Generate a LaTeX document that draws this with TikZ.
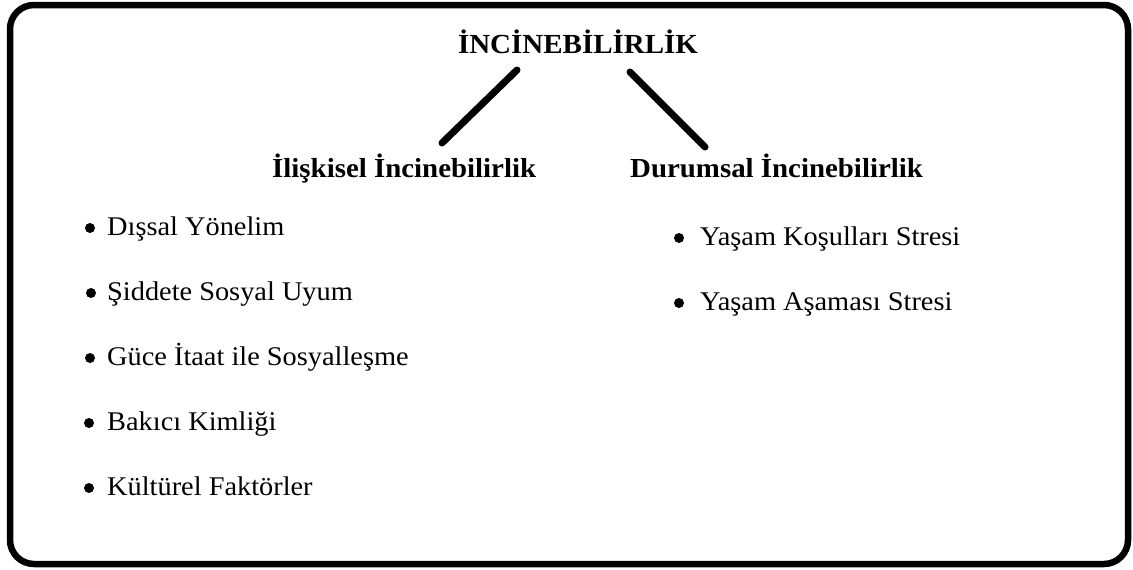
\documentclass[tikz,border=0pt]{standalone}
\usepackage{fontspec}
\setmainfont{Liberation Serif}[FakeStretch=1.05]
\begin{document}
\begin{tikzpicture}[x=1pt,y=-1pt,
  frame/.style={line width=6.5pt, rounded corners=24pt},
  titletext/.style={font=\fontsize{27.6}{32}\selectfont\bfseries, inner sep=0pt, anchor=base},
  headtext/.style={font=\fontsize{27.5}{32}\selectfont\bfseries, inner sep=0pt, anchor=base west},
  itemtext/.style={font=\fontsize{27}{31}\selectfont, inner sep=0pt, anchor=base west},
  dot/.style={circle, fill=black, inner sep=0pt, minimum size=10pt},
  conn/.style={line width=7pt, line cap=round}]
\useasboundingbox (0,0) rectangle (1133,570);
\draw[frame] (10,5) rectangle (1128,564);

\node[titletext] (title) at (578,53) {İNCİNEBİLİRLİK};
\node[headtext] (h1) at (272,177) {İlişkisel İncinebilirlik};
\node[headtext] (h2) at (630,177) {Durumsal İncinebilirlik};

\coordinate (c1a) at (517,70);
\coordinate (c1b) at (442,143);
\coordinate (c2a) at (630,72);
\coordinate (c2b) at (705,147);
\draw[conn] (c1a) -- (c1b);
\draw[conn] (c2a) -- (c2b);

\node[dot] (d1) at (90,228) {};
\node[itemtext] (i1) at (107,235) {Dışsal Yönelim};
\node[dot] (d2) at (91,293) {};
\node[itemtext] (i2) at (107,300) {Şiddete Sosyal Uyum};
\node[dot] (d3) at (90,358) {};
\node[itemtext] (i3) at (107,365) {Güce İtaat ile Sosyalleşme};
\node[dot] (d4) at (89,423) {};
\node[itemtext] (i4) at (107,430) {Bakıcı Kimliği};
\node[dot] (d5) at (89,488) {};
\node[itemtext] (i5) at (107,495) {Kültürel Faktörler};

\node[dot] (d6) at (679,238) {};
\node[itemtext] (i6) at (700,245) {Yaşam Koşulları Stresi};
\node[dot] (d7) at (679,303) {};
\node[itemtext] (i7) at (700,310) {Yaşam Aşaması Stresi};
\end{tikzpicture}
\end{document}
